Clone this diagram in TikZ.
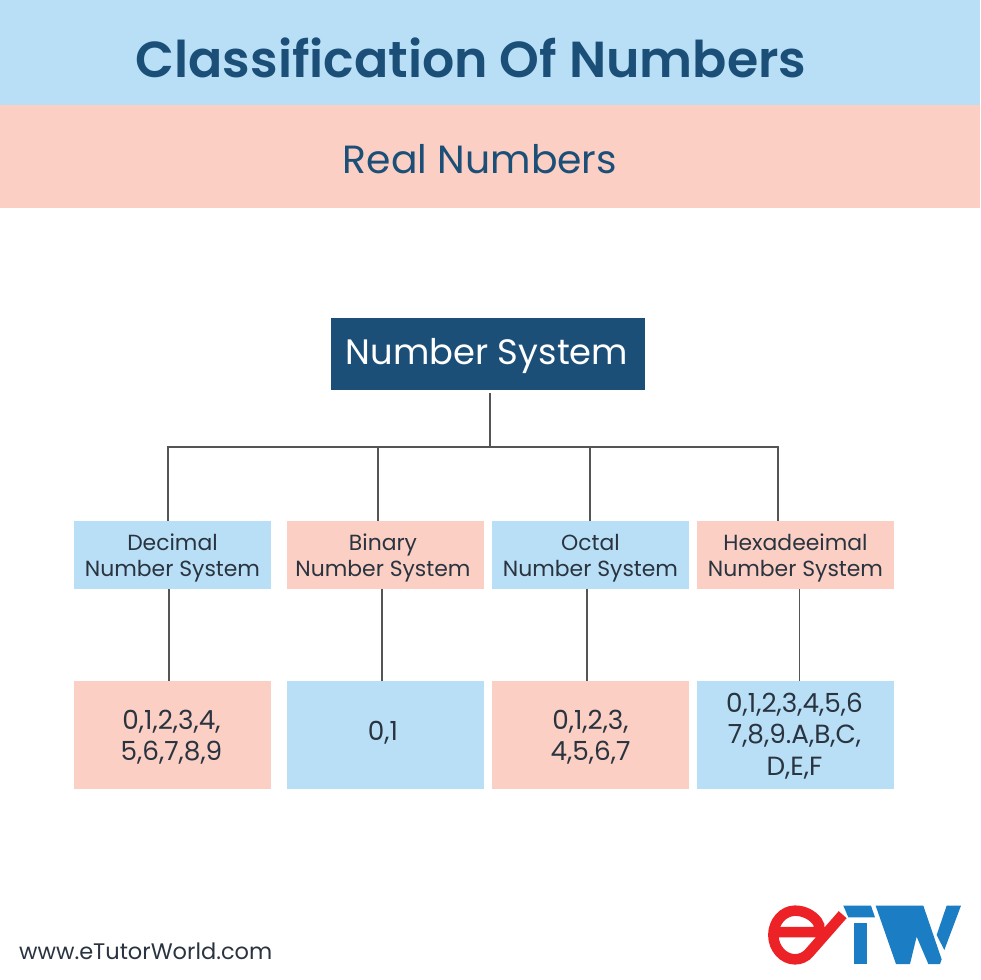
\documentclass[tikz,border=0pt]{standalone}
\usepackage{fontspec}
\setmainfont{Poppins}
\newfontfamily\titlefont{Poppins SemiBold}
\definecolor{bandblue}{HTML}{B8DFF5}
\definecolor{bandpink}{HTML}{FBCFC3}
\definecolor{navy}{HTML}{1B4F78}
\definecolor{ink}{HTML}{2A3440}
\definecolor{wire}{HTML}{555555}
\definecolor{logored}{HTML}{EC2227}
\definecolor{logoblue}{HTML}{1B7DC4}
\newcommand{\placed}[3]{\hspace*{#1}\raisebox{#2}[\height][\depth]{\parbox{190pt}{\centering #3}}}
\tikzset{
  midbox/.style={minimum width=197pt,minimum height=68pt,inner sep=0pt,text=ink,font=\fontsize{21.9}{25.5}\selectfont},
  lowbox/.style={minimum width=197pt,minimum height=108pt,inner sep=0pt,text=ink,font=\fontsize{26.3}{31.5}\selectfont},
  wireline/.style={draw=wire,line width=1.5pt}
}
\begin{document}
\begin{tikzpicture}[x=1pt,y=-1pt]
\useasboundingbox (0,0) rectangle (980,980);
\fill[white] (0,0) rectangle (980,980);
\node[fill=bandblue,minimum width=980pt,minimum height=105pt,inner sep=0pt,text=navy,font=\fontsize{50.6}{60}\selectfont\titlefont] (title) at (490,52.5) {\hspace{-38pt}\raisebox{-5pt}[\height][\depth]{Classification Of Numbers}};
\node[fill=bandpink,minimum width=980pt,minimum height=103pt,inner sep=0pt,text=navy,font=\fontsize{39.3}{46}\selectfont] (real) at (490,156.5) {\hspace{-20pt}\raisebox{-3pt}[\height][\depth]{Real Numbers}};
\node[fill=navy,minimum width=314pt,minimum height=72pt,inner sep=0pt,text=white,font=\fontsize{35.3}{42}\selectfont] (sys) at (488,354) {\hspace{-2pt}\raisebox{-2pt}[\height][\depth]{Number System}};
\node[midbox,fill=bandblue] (dec) at (172.5,555) {\placed{0pt}{-3pt}{Decimal\\Number System}};
\node[midbox,fill=bandpink] (bin) at (385,555) {\placed{-4pt}{-3pt}{Binary\\Number System}};
\node[midbox,fill=bandblue] (oct) at (590.5,555) {\placed{0pt}{-3pt}{Octal\\Number System}};
\node[midbox,fill=bandpink] (hex) at (795.5,555) {\placed{0pt}{-3pt}{Hexadeeimal\\Number System}};
\node[lowbox,fill=bandpink] (decv) at (172.5,735) {\placed{-2pt}{-2pt}{0,1,2,3,4,\\5,6,7,8,9}};
\node[lowbox,fill=bandblue] (binv) at (385,735) {\placed{-4pt}{2pt}{0,1}};
\node[lowbox,fill=bandpink] (octv) at (590.5,735) {\placed{0pt}{-2pt}{0,1,2,3,\\4,5,6,7}};
\node[lowbox,fill=bandblue] (hexv) at (795.5,735) {\placed{-2pt}{-1pt}{0,1,2,3,4,5,6\\7,8,9.A,B,C,\\D,E,F}};
\coordinate (trunk) at (490,393);
\coordinate (bus) at (490,447);
\coordinate (b1) at (168,447);
\coordinate (b2) at (378,447);
\coordinate (b3) at (590,447);
\coordinate (b4) at (778,447);
\draw[wireline] (trunk) -- (bus);
\draw[wireline] (b1 |- dec.north) -- (b1) -- (b4) -- (b4 |- hex.north);
\draw[wireline] (b2) -- (b2 |- bin.north);
\draw[wireline] (b3) -- (b3 |- oct.north);
\coordinate (l1) at (169,600);
\coordinate (l2) at (382,600);
\coordinate (l3) at (587,600);
\coordinate (l4) at (799.5,600);
\draw[wireline] (l1 |- dec.south) -- (l1 |- decv.north);
\draw[wireline] (l2 |- bin.south) -- (l2 |- binv.north);
\draw[wireline] (l3 |- oct.south) -- (l3 |- octv.north);
\draw[wireline] (l4 |- hex.south) -- (l4 |- hexv.north);
\node[anchor=west,inner sep=0pt,text=ink,font=\fontsize{22.5}{27}\selectfont] (url) at (19,951) {www.eTutorWorld.com};
\begin{scope}[shift={(740,880)},x=0.3333pt,y=-0.3333pt]
\draw[logored,line width=10.5pt] (112,156) -- (222,156) .. controls (240,156) and (243,140) .. (232,125) .. controls (218,105) and (192,92) .. (165,92) .. controls (130,92) and (100,125) .. (100,165) .. controls (100,205) and (130,238) .. (165,238) .. controls (182,238) and (197,231) .. (208,218) -- (308,104);
\fill[logoblue] (310,77) -- (393,77) -- (405,112) -- (325,112) -- cycle;
\fill[logoblue] (342,128) -- (382,128) -- (382,252) -- (342,252) -- cycle;
\fill[logoblue] (407,77) -- (550,77) -- (605,238) -- (600,252) -- (565,252) -- (530,170) -- (510,252) -- (468,252) -- cycle;
\fill[logoblue] (620,77) -- (663,77) -- (613,210) -- (590,165) -- cycle;
\end{scope}
\end{tikzpicture}
\end{document}
